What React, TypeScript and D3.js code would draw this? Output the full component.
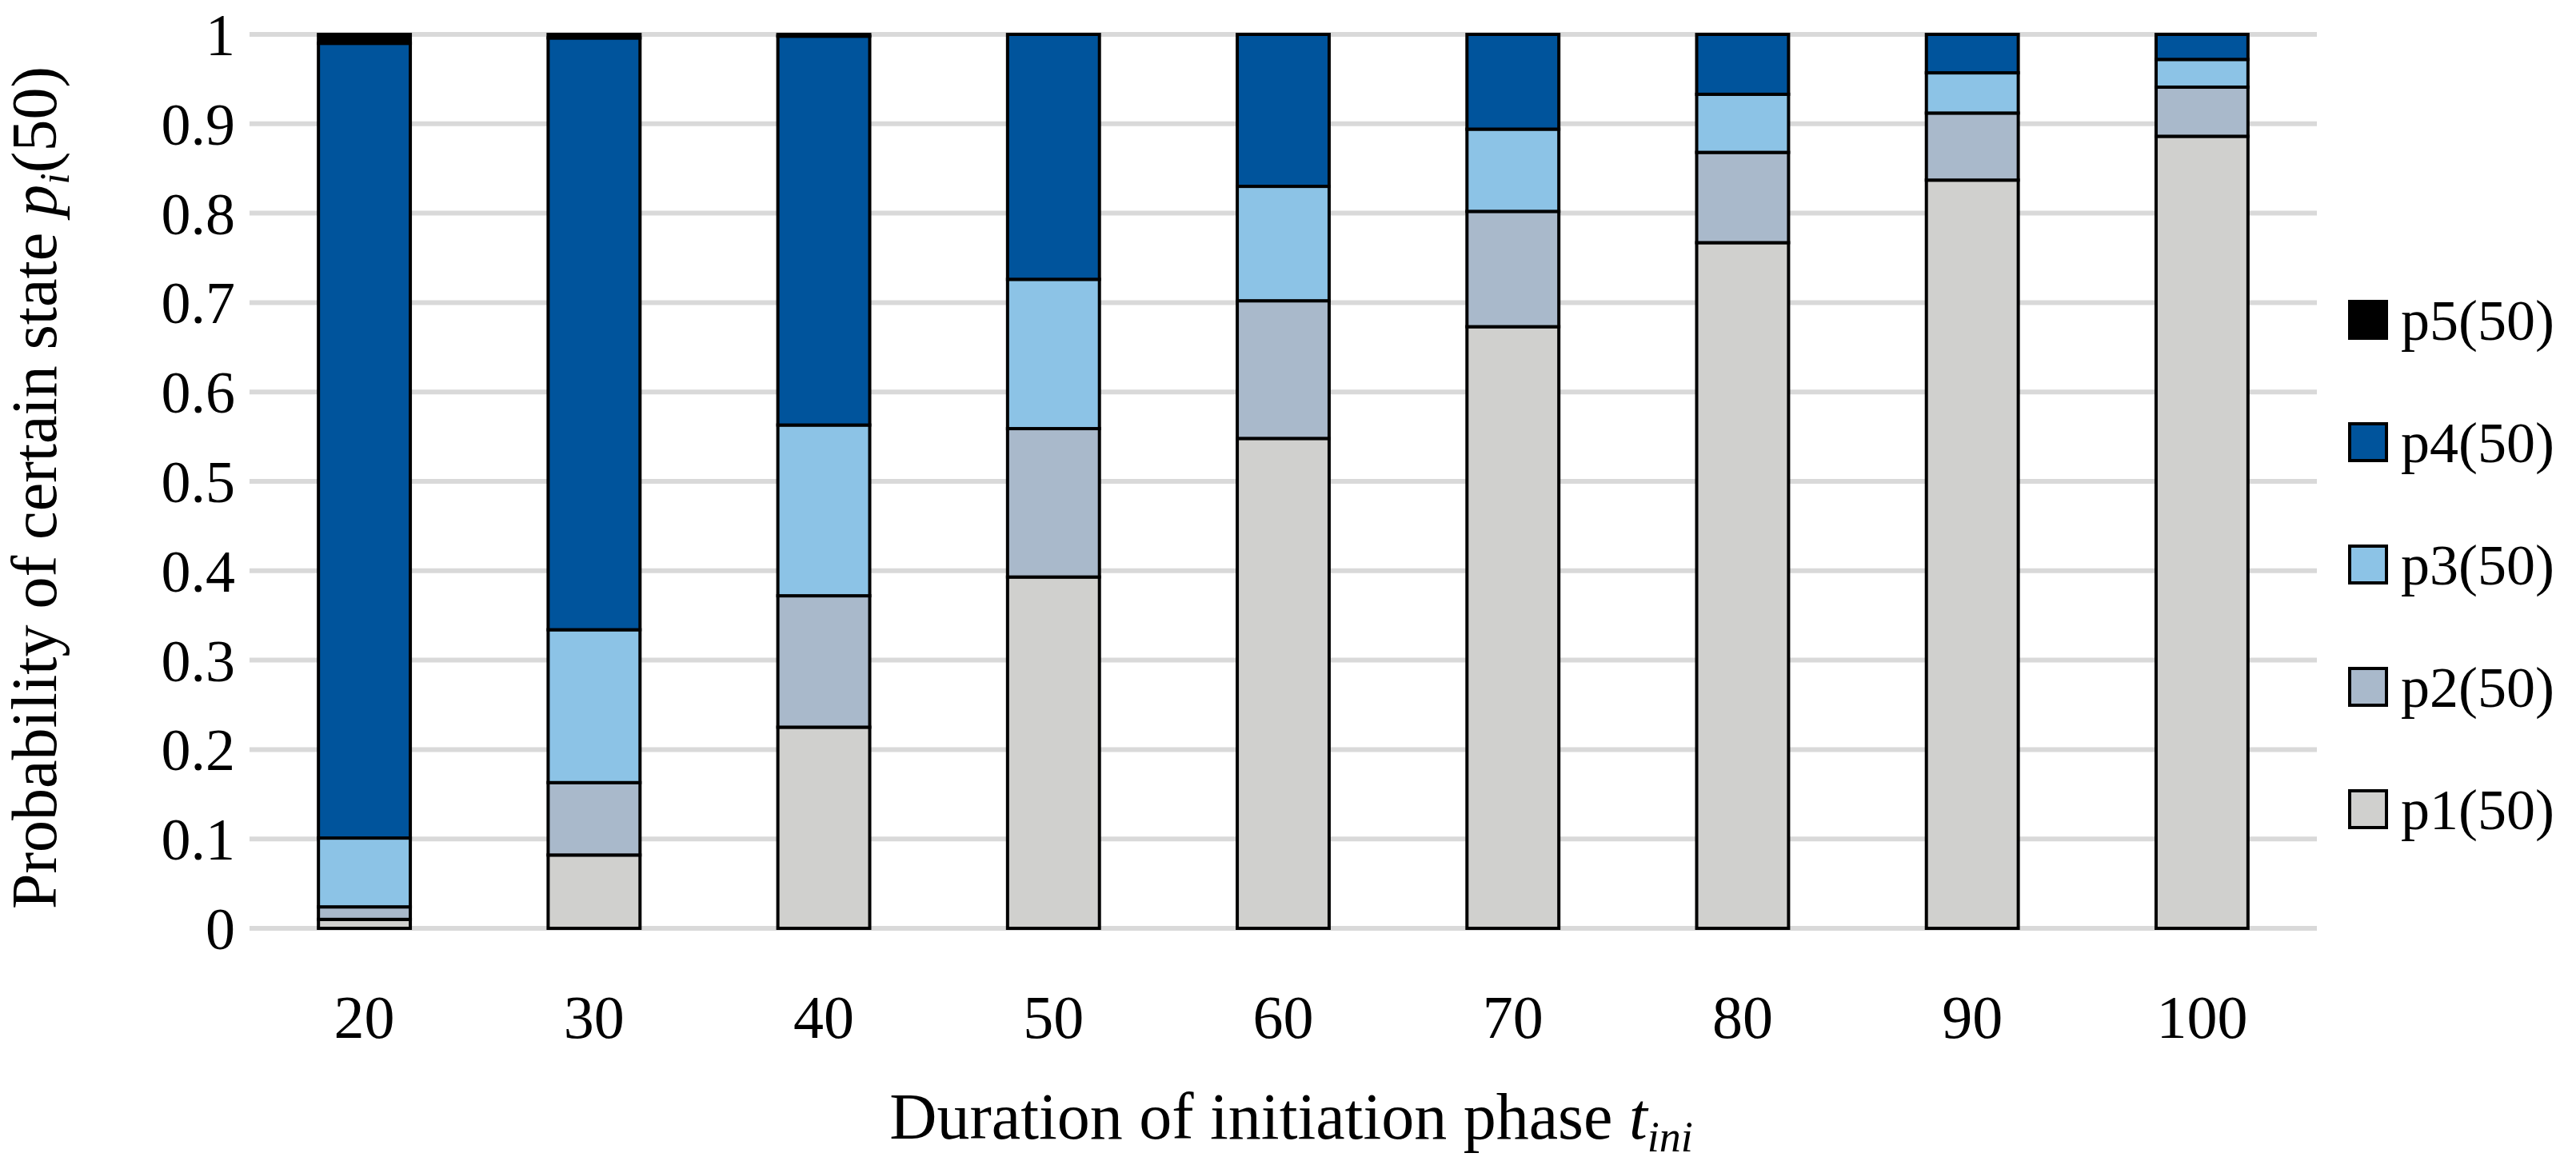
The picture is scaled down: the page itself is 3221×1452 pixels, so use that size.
import { useEffect, useRef } from "react";
import * as d3 from "d3";

const categories = ["20", "30", "40", "50", "60", "70", "80", "90", "100"];
const p1 = [0.01, 0.082, 0.225, 0.393, 0.548, 0.673, 0.767, 0.837, 0.886];
const p2 = [0.014, 0.081, 0.147, 0.166, 0.154, 0.129, 0.101, 0.075, 0.055];
const p3 = [0.077, 0.171, 0.191, 0.167, 0.128, 0.092, 0.065, 0.045, 0.031];
const p4 = [0.889, 0.662, 0.435, 0.274, 0.17, 0.106, 0.067, 0.043, 0.028];
const p5 = [0.01, 0.004, 0.002, 0, 0, 0, 0, 0, 0];
const seriesNames = ["p1(50)", "p2(50)", "p3(50)", "p4(50)", "p5(50)"];
const seriesColors = ["#d0d0ce", "#a9b9cb", "#8cc3e6", "#00549c", "#000000"];
const yTicks = [0, 0.1, 0.2, 0.3, 0.4, 0.5, 0.6, 0.7, 0.8, 0.9, 1];

const W = 3221;
const H = 1452;
const FONT = "'Liberation Serif', 'Times New Roman', serif";

export default function App() {
  const svgRef = useRef<SVGSVGElement>(null);

  useEffect(() => {
    if (!svgRef.current) return;
    const svg = d3.select(svgRef.current);
    svg.selectAll("*").remove();

    const margin = { top: 43, right: 324, bottom: 291, left: 312 };
    const chartW = W - margin.left - margin.right;
    const chartH = H - margin.top - margin.bottom;

    const allSeries = [p1, p2, p3, p4, p5];
    const rows = categories.map((c, i) => {
      const r: Record<string, number | string> = { cat: c };
      seriesNames.forEach((s, k) => (r[s] = allSeries[k][i]));
      return r;
    });
    const stacked = d3.stack<Record<string, number | string>>().keys(seriesNames)(rows as any);

    const x = d3.scaleBand().domain(categories).range([0, chartW]).paddingInner(0.6).paddingOuter(0.3);
    const y = d3.scaleLinear().domain([0, 1]).range([chartH, 0]);

    const g = svg.append("g").attr("transform", `translate(${margin.left},${margin.top})`);

    // grid
    g.append("g")
      .selectAll("line")
      .data(yTicks)
      .enter()
      .append("line")
      .attr("x1", 0)
      .attr("x2", chartW)
      .attr("y1", (d) => y(d))
      .attr("y2", (d) => y(d))
      .attr("stroke", "#d9d9d9")
      .attr("stroke-width", 6);

    // y tick labels
    g.append("g")
      .selectAll("text")
      .data(yTicks)
      .enter()
      .append("text")
      .attr("x", -18)
      .attr("y", (d) => y(d))
      .attr("dy", "0.35em")
      .attr("text-anchor", "end")
      .attr("font-family", FONT)
      .attr("font-size", 74)
      .text((d) => String(d));

    // x tick labels
    g.append("g")
      .selectAll("text")
      .data(categories)
      .enter()
      .append("text")
      .attr("x", (d) => (x(d) ?? 0) + x.bandwidth() / 2)
      .attr("y", chartH + 137)
      .attr("text-anchor", "middle")
      .attr("font-family", FONT)
      .attr("font-size", 76)
      .text((d) => d);

    // bars
    stacked.forEach((layer, k) => {
      g.append("g")
        .selectAll("rect")
        .data(layer)
        .enter()
        .append("rect")
        .attr("x", (d) => x(String(d.data.cat)) ?? 0)
        .attr("width", x.bandwidth())
        .attr("y", (d) => y(d[1]))
        .attr("height", (d) => Math.max(0, y(d[0]) - y(d[1])))
        .attr("fill", seriesColors[k])
        .attr("stroke", (d) => (d[1] - d[0] > 0 ? "#000" : "none"))
        .attr("stroke-width", 4);
    });

    // y axis title
    const yt = svg
      .append("text")
      .attr("transform", `translate(70, ${margin.top + chartH / 2 + 8}) rotate(-90)`)
      .attr("text-anchor", "middle")
      .attr("font-family", FONT)
      .attr("font-size", 80);
    yt.append("tspan").text("Probability of certain state ");
    yt.append("tspan").attr("font-style", "italic").text("p");
    yt.append("tspan").attr("font-style", "italic").attr("font-size", 52).attr("dy", 16).text("i");
    yt.append("tspan").attr("dy", -16).text("(50)");

    // x axis title
    const xt = svg
      .append("text")
      .attr("x", margin.left + chartW / 2 + 10)
      .attr("y", 1424)
      .attr("text-anchor", "middle")
      .attr("font-family", FONT)
      .attr("font-size", 82);
    xt.append("tspan").text("Duration of initiation phase ");
    xt.append("tspan").attr("font-style", "italic").text("t");
    xt.append("tspan").attr("font-style", "italic").attr("font-size", 54).attr("dy", 16).text("ini");

    // legend
    const legend = svg.append("g");
    const legendOrder = [4, 3, 2, 1, 0];
    legendOrder.forEach((k, i) => {
      const cy = 400 + i * 153;
      legend
        .append("rect")
        .attr("x", 2938)
        .attr("y", cy - 23)
        .attr("width", 46)
        .attr("height", 46)
        .attr("fill", seriesColors[k])
        .attr("stroke", "#000")
        .attr("stroke-width", 4);
      legend
        .append("text")
        .attr("x", 3002)
        .attr("y", cy)
        .attr("dy", "0.35em")
        .attr("font-family", FONT)
        .attr("font-size", 72)
        .text(seriesNames[k]);
    });
  }, []);

  return (
    <svg
      ref={svgRef}
      width={W}
      height={H}
      style={{ position: "absolute", left: 0, top: 0, background: "#fff" }}
    />
  );
}
